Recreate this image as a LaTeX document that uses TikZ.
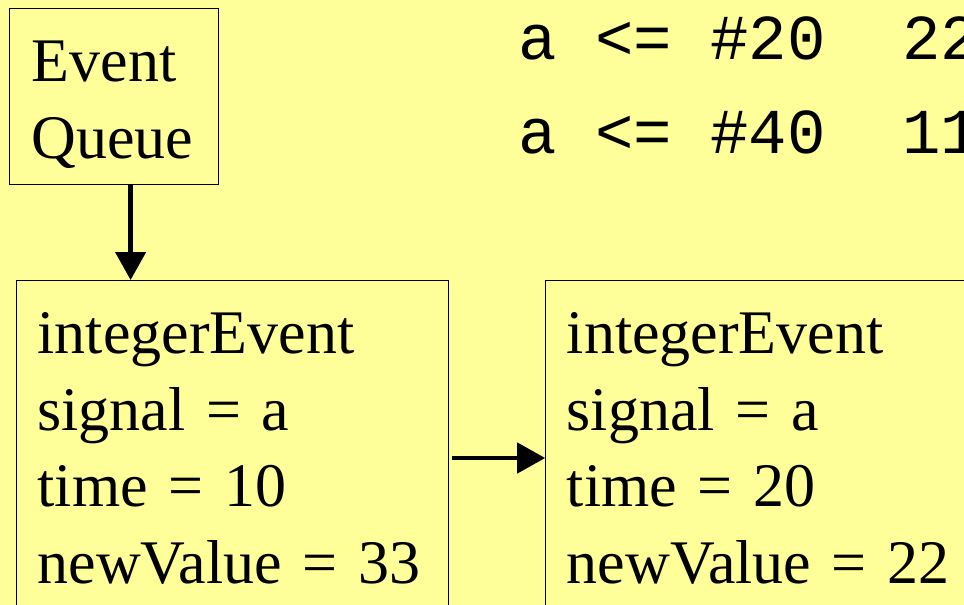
\documentclass[tikz,border=0pt]{standalone}
\usepackage{fontspec}
\setmainfont{Liberation Serif}
\setmonofont{Liberation Mono}
\usetikzlibrary{arrows.meta,positioning}
\definecolor{slide}{RGB}{255,255,153}

\begin{document}
\begin{tikzpicture}[x=1pt,y=-1pt,>={Triangle[length=28pt,width=30pt]},
    box/.style={draw,line width=1.2pt,anchor=north west,align=left,
      inner sep=0pt,inner xsep=21pt,font={\fontsize{62}{76.5}\selectfont}},
    code/.style={anchor=base west,inner sep=0pt,
      font={\ttfamily\fontsize{64}{94}\selectfont}}]
    % Page, in pixels of the slide
    \fill[slide] (0,0) rectangle (964,605);
    \useasboundingbox (0,0) rectangle (964,605);
    \clip (0,0) rectangle (964,605);
    % Queue head and the two events (boxes run off the bottom of the slide)
    \node[box,inner xsep=22pt,text width=165pt,text height=73pt,text depth=103pt]
        (eq) at (9,8) {Event\\Queue};
    \node[box,text width=390pt,text height=73pt,text depth=400pt]
        (ev1) at (16,280) {integerEvent\\signal = a\\time = 10\\newValue = 33};
    \node[box,text width=420pt,text height=73pt,text depth=400pt,
        right=96pt of ev1.north east,anchor=north west]
        (ev2) {integerEvent\\signal = a\\time = 20\\newValue = 22};
    % Source lines
    \node[code] (c1) at (518,59) {a <= \#20~~22};
    \node[code] (c2) at (518,153) {a <= \#40~~11};
    % Links
    \draw[->,line width=4.5pt] ([xshift=16.5pt]eq.south) -- ([xshift=16.5pt]eq.south |- ev1.north);
    \draw[->,line width=4.5pt] ([shift={(3pt,-178pt)}]ev1.north east) -- ([yshift=-178pt]ev2.north west);
\end{tikzpicture}
\end{document}
